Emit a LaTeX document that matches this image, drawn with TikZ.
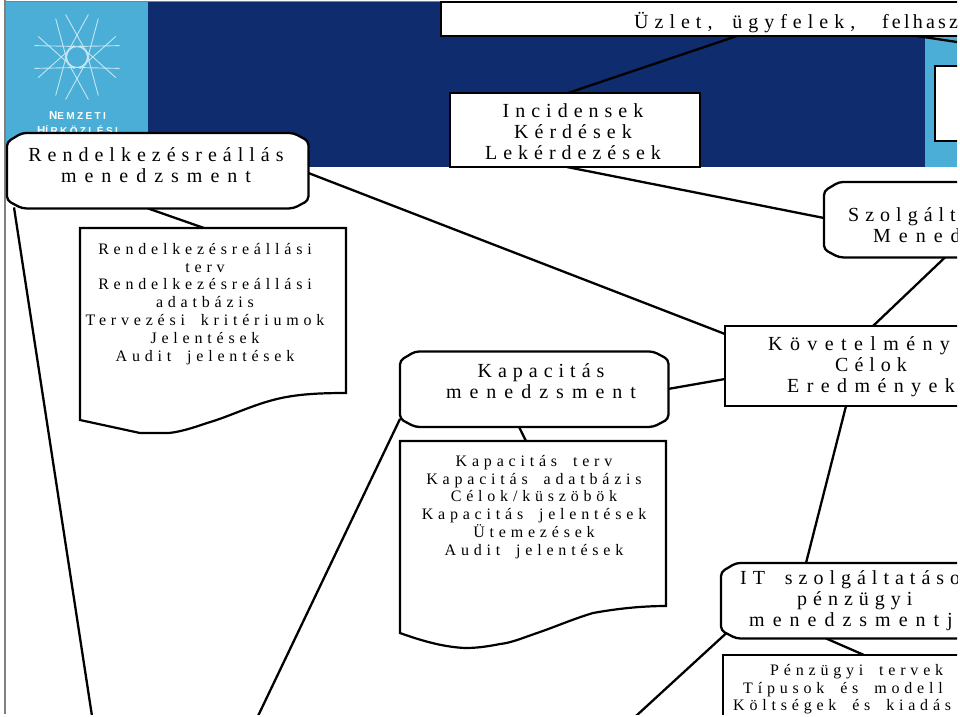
\documentclass[tikz,border=0pt]{standalone}
\usepackage{fontspec}
\setmainfont{Liberation Serif}
\newfontfamily\spaced[LetterSpace=30,WordSpace=1.8]{Liberation Serif}
\newfontfamily\spacedtight[LetterSpace=16]{Liberation Serif}
\newfontfamily\spacedmid[LetterSpace=37]{Liberation Serif}
\newfontfamily\spacedwide[LetterSpace=40]{Liberation Serif}
\newfontfamily\logofont[LetterSpace=24]{Liberation Sans}
\definecolor{skyb}{HTML}{4BAED6}
\definecolor{navyb}{HTML}{0E2C6E}
\definecolor{starl}{HTML}{C4E6F3}
\pgfdeclarelayer{bannerlayer}
\pgfdeclarelayer{connlayer}
\pgfsetlayers{bannerlayer,connlayer,main}
\tikzset{
  proc/.style={draw=none,anchor=north west,inner sep=0pt},
  plain/.style={draw=black,line width=2.2pt,fill=white,anchor=north west,inner sep=0pt,outer sep=0pt},
  docarea/.style={draw=none,anchor=north west,inner sep=0pt},
  docshape/.style={draw=black,line width=2.2pt,fill=white,line join=miter},
  chamfer/.style={draw=black,line width=2.3pt,fill=white,rounded corners=4pt},
  conn/.style={draw=black,line width=2.3pt},
  bigtxt/.style={font=\spaced\fontsize{20}{21.2}\selectfont,align=center,inner sep=0pt,text=black},
  smalltxt/.style={font=\spaced\fontsize{16}{17.8}\selectfont,align=center,inner sep=0pt,text=black},
  logotxt/.style={font=\logofont\bfseries,text=white,inner sep=0pt,anchor=base}
}
\newcommand\pageclip{\clip (0,0) rectangle (957,714);}
\newcommand\chamf[1]{\draw[chamfer]
  ([xshift=15pt]#1.north west) -- ([xshift=-15pt]#1.north east) -- ([yshift=-8pt]#1.north east)
  -- ([yshift=8pt]#1.south east) -- ([xshift=-15pt]#1.south east) -- ([xshift=15pt]#1.south west)
  -- ([yshift=8pt]#1.south west) -- ([yshift=-9pt]#1.north west) -- cycle;}
\begin{document}
\begin{tikzpicture}[x=1pt,y=-1pt]
\useasboundingbox (0,0) rectangle (960,716);
\begin{pgfonlayer}{bannerlayer}
\fill[white] (0,0) rectangle (960,716);
\pageclip
\fill[navyb] (5,1) rectangle (957,167);
\fill[skyb] (5,1) rectangle (148,167);
\fill[skyb] (925,37) rectangle (957,167);
\draw[gray,line width=1.2pt] (5,0) -- (5,714);
\draw[gray,line width=0.6pt] (5,1) -- (441,1);
\end{pgfonlayer}
\begin{scope}
\pageclip
% logo
\draw[starl,line width=1.1pt] (77,57) circle (10.5);
\foreach \a/\s in {15/1,28/-1,61/-1,75/1,105/-1,119/1,152/1,165/-1,
                   195/1,208/-1,241/-1,255/1,285/-1,299/1,332/1,345/-1}{
  \draw[starl,line width=0.9pt]
    ({77+44*cos(\a)},{57-44*sin(\a)}) -- ({77+12*cos(\a+\s*105)},{57-12*sin(\a+\s*105)});
}
\node[logotxt] (logoa) at (77.5,119) {{\fontsize{11.5}{12}\selectfont N}{\fontsize{10}{12}\selectfont EMZETI}};
\node[logotxt] (logob) at (77.5,134) {{\fontsize{11.5}{12}\selectfont H}{\fontsize{10}{12}\selectfont ÍRKÖZLÉSI}};
% boxes
\node[plain,minimum width=600pt,minimum height=34pt] (uzlet) at (441,2) {};
\node[plain,minimum width=40pt,minimum height=75pt] (side) at (935,66) {};
\node[plain,minimum width=250pt,minimum height=74pt] (incid) at (450,93) {};
\node[proc,minimum width=301pt,minimum height=75pt] (rend) at (7,133) {};
\node[proc,minimum width=200pt,minimum height=75pt] (szolg) at (824,182) {};
\node[docarea,minimum width=266pt,minimum height=165pt] (rdoc) at (80,228) {};
\node[proc,minimum width=268pt,minimum height=75pt] (kap) at (400,351.5) {};
\node[docarea,minimum width=266pt,minimum height=165pt] (kdoc) at (400,441) {};
\node[plain,minimum width=300pt,minimum height=80pt] (kov) at (725,326) {};
\node[proc,minimum width=300pt,minimum height=75pt] (itsz) at (721,563) {};
\node[plain,minimum width=300pt,minimum height=90pt] (penz) at (723,655) {};
\coordinate (endA) at (92,716);
\coordinate (endB) at (258,716);
\coordinate (endC) at (636,716);
\coordinate (endD) at (957,42);
\chamf{rend}
\chamf{szolg}
\chamf{kap}
\chamf{itsz}
% document shapes
\draw[docshape] (80,228) -- (346,228) -- (346,393)
  .. controls (320,393) and (295,394) .. (273,400)
  .. controls (250,406) and (228,417) .. (207,423)
  .. controls (190,429) and (175,433) .. (167,433)
  -- (140,433) -- (80,420) -- cycle;
\draw[docshape] (400,441) -- (666,441) -- (666,606)
  .. controls (640,606) and (615,609) .. (593,613)
  .. controls (570,620) and (555,627) .. (537,633)
  .. controls (520,639) and (510,643) .. (500,644)
  .. controls (485,647) and (475,648) .. (465,648)
  .. controls (445,647) and (425,642) .. (400,633) -- cycle;
% texts
\node[bigtxt,anchor=north] (t1) at (573,103.5) {Incidensek\\Kérdések\\Lekérdezések};
\node[bigtxt,anchor=north] (t2) at (156,147) {Rendelkezésreállás\\{\spacedwide menedzsment}};
\node[bigtxt,anchor=north] (t3) at (541,363) {Kapacitás\\{\spacedwide menedzsment}};
\node[bigtxt,anchor=north west,align=left] (t4) at (634,12) {Üzlet, ügyfelek, \hspace*{7pt}{\spacedtight felhasz}};
\node[bigtxt,anchor=north west,align=left] (t5) at (848,207) {Szolgált\\\hspace*{25pt}{\spacedwide Mened}};
\node[bigtxt,anchor=north west,align=left] (t6) at (768,336) {{\spacedmid Követelmény}\\\hspace*{67pt}Célok\\\hspace*{19pt}{\spacedmid Eredmények}};
\node[bigtxt,anchor=north west,align=left] (t7) at (740,570) {IT szolgáltatáso\\\hspace*{57pt}pénzügyi\\\hspace*{9pt}{\spacedwide menedzsmentj}};
\node[smalltxt,anchor=north] (s1) at (205,243) {Rendelkezésreállási\\terv\\Rendelkezésreállási\\adatbázis\\Tervezési kritériumok\\Jelentések\\Audit jelentések};
\node[smalltxt,anchor=north] (s2) at (534,455) {Kapacitás terv\\Kapacitás adatbázis\\Célok/küszöbök\\Kapacitás jelentések\\Ütemezések\\Audit jelentések};
\node[smalltxt,anchor=north west,align=left] (s3) at (733,664) {\hspace*{37pt}Pénzügyi tervek\\\hspace*{10pt}Típusok és modell\\Költségek és kiadás};
\end{scope}
\begin{pgfonlayer}{connlayer}
\pageclip
\draw[conn] ([xshift=296pt]uzlet.south west) -- ([xshift=118pt]incid.north west);
\draw[conn] ([xshift=476pt]uzlet.south west) -- (endD);
\draw[conn] ([xshift=117pt]incid.south west) -- ([yshift=-36pt]szolg.north west);
\draw[conn] ([yshift=-40pt]rend.north east) -- ([yshift=-8pt]kov.north west);
\draw[conn] ([xshift=141pt]rend.south west) -- ([xshift=124pt]rdoc.north west);
\draw[conn] ([xshift=7pt,yshift=1pt]rend.south west) -- (endA);
\draw[conn] ([xshift=121pt]szolg.south west) -- ([xshift=148pt]kov.north west);
\draw[conn] ([yshift=38pt]kap.south east) -- ([yshift=-53pt]kov.north west);
\draw[conn] ([xshift=119pt]kap.south west) -- ([xshift=126pt]kdoc.north west);
\draw[conn] ([yshift=8pt]kap.south west) -- (endB);
\draw[conn] ([xshift=121pt]kov.south west) -- ([xshift=85pt]itsz.north west);
\draw[conn] ([xshift=5pt,yshift=5pt]itsz.south west) -- (endC);
\draw[conn] ([xshift=105pt]itsz.south west) -- ([xshift=141pt]penz.north west);
\end{pgfonlayer}
\end{tikzpicture}
\end{document}
